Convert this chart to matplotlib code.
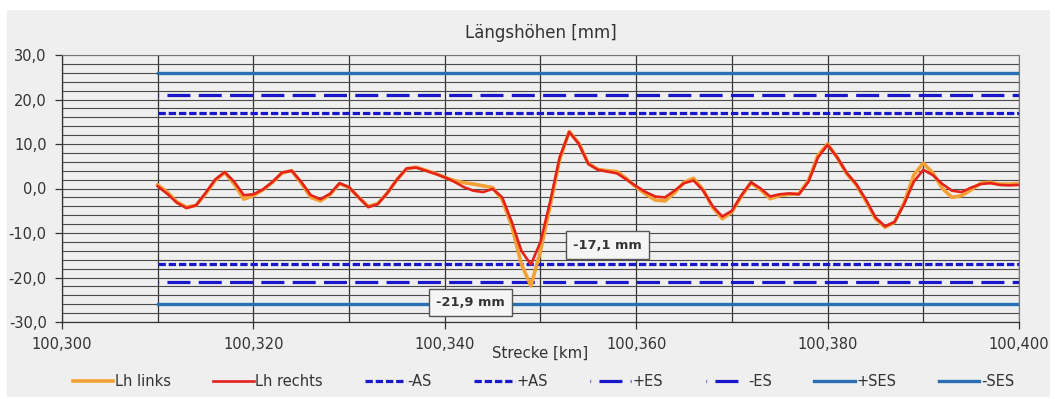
import matplotlib

matplotlib.use("Agg")
import matplotlib.pyplot as plt
from matplotlib.patches import Rectangle
from matplotlib.ticker import FuncFormatter, MultipleLocator

# Strecke in km, one reading per metre
km = [round(100.310 + i * 0.001, 3) for i in range(91)]

lh_rechts = [
    0.5, -1.2, -3.2, -4.4, -3.8, -1.0, 2.0, 3.7, 1.5, -1.5,
    -1.3, -0.2, 1.5, 3.6, 4.0, 1.5, -1.5, -2.4, -1.2, 1.2,
    0.3, -2.0, -4.2, -3.5, -1.0, 2.0, 4.5, 4.7, 4.0, 3.3,
    2.5, 1.5, 0.3, -0.5, -0.8, -0.1, -2.0, -7.5, -14.0, -17.1,
    -12.0, -3.0, 7.0, 12.7, 10.0, 5.5, 4.2, 3.8, 3.4, 2.0,
    0.5, -0.8, -1.8, -2.0, -0.5, 1.2, 1.8, -0.5, -4.0, -6.3,
    -5.0, -1.5, 1.4, 0.0, -1.8, -1.3, -1.1, -1.3, 1.5, 7.0,
    9.8, 7.0, 3.5, 1.0, -2.5, -6.5, -8.5, -7.5, -3.5, 1.5,
    4.2, 3.0, 1.0, -0.5, -0.8, 0.2, 1.0, 1.2, 0.8, 0.7,
    0.8,
]

lh_links = [
    0.8, -0.8, -3.0, -4.2, -3.8, -1.2, 1.8, 3.6, 1.0, -2.4,
    -1.6, -0.3, 1.4, 3.5, 4.0, 1.2, -2.0, -2.8, -1.4, 1.1,
    0.2, -2.0, -4.0, -3.4, -1.0, 2.0, 4.4, 4.8, 4.1, 3.4,
    2.5, 1.8, 1.3, 1.0, 0.6, 0.2, -2.5, -8.5, -17.0, -21.9,
    -14.0, -4.0, 6.5, 12.8, 10.2, 5.6, 4.3, 4.0, 3.8, 2.2,
    0.3, -1.3, -2.6, -2.8, -1.0, 1.4, 2.3, -0.3, -4.3, -6.8,
    -5.3, -1.7, 1.3, -0.3, -2.3, -1.6, -1.3, -1.2, 1.8, 7.5,
    10.0, 7.0, 3.3, 0.8, -2.8, -6.8, -8.7, -7.6, -3.2, 3.0,
    5.7, 3.5, 0.0, -2.0, -1.6, -0.3, 1.2, 1.4, 1.0, 1.0,
    1.1,
]

# tolerance limits [mm]
grenzen = {"AS": 17.0, "ES": 21.0, "SES": 26.0}
grenz_km = [100.310, 100.400]

labels_min = ["-17,1 mm", "-21,9 mm"]
label_pos = [(100.3570, -12.7), (100.3427, -25.7)]

BG = "#efefef"
ORANGE, RED = "#f3a035", "#e4231a"
BLUE, SES_BLUE = "#1818c8", "#2b6fb3"

plt.rcParams["font.family"] = "DejaVu Sans"
fig = plt.figure(figsize=(10.55, 3.99), dpi=100, facecolor="white")
fig.patches.append(Rectangle((7 / 1055, 2 / 399), 1043 / 1055, 387 / 399,
                             transform=fig.transFigure, facecolor=BG,
                             edgecolor="none", zorder=-10))
ax = fig.add_axes([62 / 1055, 1 - 322 / 399, 957 / 1055, 267 / 399])
ax.set_facecolor(BG)

ax.plot(grenz_km, [-grenzen["AS"]] * 2, color=BLUE, lw=2.3, dashes=(2.3, 0.9),
        solid_capstyle="butt", label="-AS", zorder=3)
ax.plot(grenz_km, [grenzen["AS"]] * 2, color=BLUE, lw=2.3, dashes=(2.3, 0.9),
        label="+AS", zorder=3)
ax.plot(grenz_km, [grenzen["ES"]] * 2, color=BLUE, lw=2.3,
        linestyle=(7.0, (7.2, 2.6)), label="+ES", zorder=3)
ax.plot(grenz_km, [-grenzen["ES"]] * 2, color=BLUE, lw=2.3,
        linestyle=(7.0, (7.2, 2.6)), label="-ES", zorder=3)
ax.plot(grenz_km, [grenzen["SES"]] * 2, color=SES_BLUE, lw=2.4,
        label="+SES", zorder=3)
ax.plot(grenz_km, [-grenzen["SES"]] * 2, color=SES_BLUE, lw=2.4,
        label="-SES", zorder=3)

l_links, = ax.plot(km, lh_links, color=ORANGE, lw=2.6, label="Lh links", zorder=4)
l_rechts, = ax.plot(km, lh_rechts, color=RED, lw=1.9, label="Lh rechts", zorder=5)

for txt, (x, y) in zip(labels_min, label_pos):
    ax.text(x, y, txt, ha="center", va="center", fontsize=9.3,
            fontweight="bold", color="#333333", zorder=6,
            bbox=dict(boxstyle="square,pad=0.55", facecolor="#f5f5f5",
                      edgecolor="#555555", lw=1.0))

ax.set_xlim(100.300, 100.400)
ax.set_ylim(-30, 30)
ax.xaxis.set_major_locator(MultipleLocator(0.02))
ax.xaxis.set_minor_locator(MultipleLocator(0.01))
ax.yaxis.set_major_locator(MultipleLocator(10))
ax.yaxis.set_minor_locator(MultipleLocator(2))
ax.xaxis.set_major_formatter(FuncFormatter(lambda v, _: f"{v:.3f}".replace(".", ",")))
ax.yaxis.set_major_formatter(FuncFormatter(lambda v, _: f"{v:.1f}".replace(".", ",")))

ax.grid(which="both", axis="y", color="#4a4a4a", lw=0.8, zorder=0)
ax.grid(which="both", axis="x", color="#333333", lw=0.9, zorder=0)
ax.set_axisbelow(True)
ax.tick_params(which="major", length=5, width=0.9, color="#333333",
               labelsize=10.5, labelcolor="#333333")
ax.tick_params(axis="y", pad=6)
ax.tick_params(axis="x", pad=6)
ax.tick_params(which="minor", length=0)
for side in ("left", "bottom"):
    ax.spines[side].set_color("#333333")
    ax.spines[side].set_linewidth(0.9)
for side in ("top", "right"):
    ax.spines[side].set_color("#777777")
    ax.spines[side].set_linewidth(0.8)

ax.set_title("Längshöhen [mm]", fontsize=12, color="#333333", pad=12)
ax.set_xlabel("Strecke [km]", fontsize=10.8, color="#333333", labelpad=-5)

h, l = ax.get_legend_handles_labels()
order = ["Lh links", "Lh rechts", "-AS", "+AS", "+ES", "-ES", "+SES", "-SES"]
hl = dict(zip(l, h))
fig.legend([hl[k] for k in order], order, loc="center", ncol=8,
           bbox_to_anchor=(0.515, 0.043), frameon=False, fontsize=10.5,
           handlelength=2.8, handletextpad=0.1, columnspacing=2.9,
           labelcolor="#333333")

fig.savefig("out.png", dpi=100, facecolor=fig.get_facecolor())
